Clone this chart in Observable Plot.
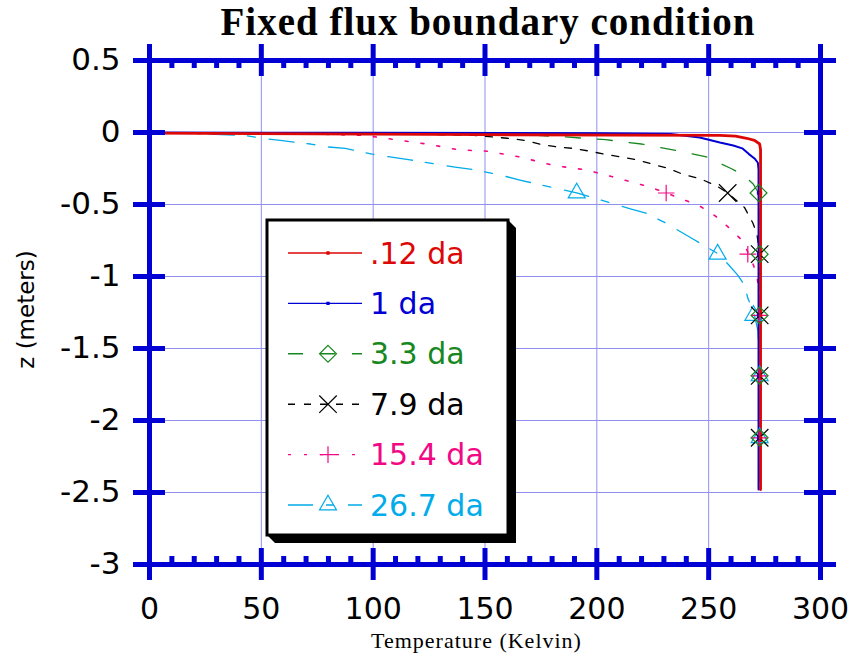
<!DOCTYPE html>
<html><head><meta charset="utf-8">
<script src="https://cdn.jsdelivr.net/npm/d3@7"></script>
<script src="https://cdn.jsdelivr.net/npm/@observablehq/plot@0.6"></script>
<style>body{margin:0;background:#fff}#chart{width:857px;height:655px}</style>
</head><body><div id="chart"></div>
<script>
// ---------- text ----------
const title = "Fixed flux boundary condition";
const xLabel = "Temperature (Kelvin)";
const yLabel = "z (meters)";

// ---------- ticks ----------
const xTicks = [0, 50, 100, 150, 200, 250, 300];
const xTickLabels = ["0", "50", "100", "150", "200", "250", "300"];
const xMinorTicks = [10,20,30,40,60,70,80,90,110,120,130,140,160,170,180,190,210,220,230,240,260,270,280,290];
const yTicks = [0.5, 0, -0.5, -1, -1.5, -2, -2.5, -3];
const yTickLabels = ["0.5", "0", "-0.5", "-1", "-1.5", "-2", "-2.5", "-3"];
const xGrid = [50, 100, 150, 200, 250];
const yGrid = [0, -0.5, -1, -1.5, -2, -2.5];

// ---------- series ----------
const seriesNames = [".12 da", "1 da", "3.3 da", "7.9 da", "15.4 da", "26.7 da"];
const seriesColors = ["#dd0806", "#0000d4", "#17871f", "#000000", "#f20884", "#02abea"];

const tempA = [0, 150, 255, 262, 267, 270.5, 272.8, 273.2, 273.2];
const depthA = [-0.005, -0.015, -0.02, -0.025, -0.04, -0.055, -0.08, -0.12, -2.48];

const tempB = [0, 100, 200, 233, 246, 255, 261, 265, 268, 270.5, 272, 272.3, 272.3];
const depthB = [0, -0.002, -0.005, -0.01, -0.035, -0.07, -0.09, -0.11, -0.15, -0.18, -0.21, -0.26, -2.48];

const tempC = [0, 100, 162, 185, 204, 220, 234, 249, 260, 266, 270, 272.3, 272.8, 272.8];
const depthC = [0, -0.005, -0.01, -0.03, -0.05, -0.08, -0.12, -0.17, -0.25, -0.3, -0.36, -0.42, -0.6, -2.48];

const tempD = [0, 60, 120, 145, 160, 168, 174.5, 182, 189, 197, 203, 211, 218, 225, 232, 238.5, 246, 253.5, 258.5, 266, 269.8, 271.5, 272.8, 273, 273];
const depthD = [0, -0.005, -0.012, -0.02, -0.04, -0.055, -0.08, -0.1, -0.11, -0.13, -0.15, -0.17, -0.19, -0.22, -0.25, -0.29, -0.32, -0.37, -0.42, -0.52, -0.63, -0.7, -0.84, -1.0, -2.48];

const tempE = [0, 30, 73, 96, 110, 124, 138, 151, 165.6, 181, 195.5, 210, 224, 231, 246, 253, 259, 265, 267.5, 270, 271.5, 272.5, 273, 273];
const depthE = [0, -0.01, -0.01, -0.02, -0.05, -0.08, -0.12, -0.13, -0.17, -0.23, -0.26, -0.32, -0.38, -0.42, -0.51, -0.58, -0.66, -0.75, -0.83, -0.92, -0.99, -1.1, -1.27, -2.48];

const tempF = [0, 20, 32, 42, 50.5, 58.5, 72, 79.5, 87.5, 99.5, 107.5, 116.5, 128.5, 136.6, 146, 158, 165.6, 173.7, 182.6, 191, 195.5, 202, 215, 222, 231, 243, 254, 259, 263, 266, 267.5, 270.5, 272, 272.5, 272.5];
const depthF = [0, -0.005, -0.015, -0.02, -0.04, -0.055, -0.08, -0.1, -0.11, -0.15, -0.17, -0.19, -0.22, -0.24, -0.26, -0.3, -0.33, -0.36, -0.39, -0.42, -0.44, -0.47, -0.53, -0.56, -0.63, -0.74, -0.84, -0.92, -0.99, -1.06, -1.15, -1.27, -1.375, -1.5, -2.48];

// marker points
const markerDepth = [-0.42, -0.845, -1.27, -1.69, -2.12];
const markerTempA = [273.2, 273.2, 273.2, 273.2, 273.2];
const markerTempB = [272.3, 272.3, 272.3, 272.3, 272.3];
const markerTempC = [272.3, 272.8, 272.8, 272.8, 272.8];
const markerTempD = [258.5, 272.8, 272.8, 272.8, 272.8];
const markerTempE = [231, 267.5, 272.5, 272.5, 272.5];
const markerTempF = [191, 254, 270, 272.8, 272.8];

// ---------- styles ----------
const axisColor = "#0000d4";
const gridColor = "#9090ee";
const seriesStyle = [
  {dash: null, width: 2.8, symbol: "square", r: 1.2, fill: seriesColors[0]},
  {dash: null, width: 2.0, symbol: "square", r: 1.2, fill: seriesColors[1]},
  {dash: "15,17", width: 1.3, symbol: "diamond2", r: 7.6, fill: "none"},
  {dash: "7,9", width: 1.3, symbol: "times", r: 8.0, fill: "none"},
  {dash: "3,13", width: 1.6, symbol: "plus", r: 5.4, fill: "none"},
  {dash: "25,13,8,14", width: 1.3, symbol: "triangle", r: 6.3, fill: "none"}
];
const d3Symbols = {square: d3.symbolSquare, diamond2: d3.symbolDiamond2, times: d3.symbolTimes, plus: d3.symbolPlus, triangle: d3.symbolTriangle};

const temps = [tempA, tempB, tempC, tempD, tempE, tempF];
const depths = [depthA, depthB, depthC, depthD, depthE, depthF];
const markerTemps = [markerTempA, markerTempB, markerTempC, markerTempD, markerTempE, markerTempF];

const lineRows = seriesNames.map((name, s) => temps[s].map((t, i) => ({series: name, T: t, z: depths[s][i]})));
const markerRows = seriesNames.map((name, s) => markerTemps[s].map((t, i) => ({series: name, T: t, z: markerDepth[i]})));

const tickFont = "DejaVu Sans";
const order = [5, 4, 3, 2, 1, 0];

const plot = Plot.plot({
  width: 857, height: 655,
  marginTop: 60, marginBottom: 91, marginLeft: 149, marginRight: 37,
  x: {domain: [0, 300], axis: null},
  y: {domain: [-3, 0.5], axis: null},
  style: {background: "white"},
  marks: [
    Plot.ruleX(xGrid, {x: d => d, stroke: gridColor, strokeWidth: 1}),
    Plot.ruleY(yGrid, {y: d => d, stroke: gridColor, strokeWidth: 1}),
    ...order.map(s => Plot.line(lineRows[s], {x: "T", y: "z", stroke: seriesColors[s], strokeWidth: seriesStyle[s].width, strokeDasharray: seriesStyle[s].dash})),
    ...order.map(s => Plot.dot(markerRows[s], {x: "T", y: "z", symbol: seriesStyle[s].symbol, r: seriesStyle[s].r, stroke: seriesColors[s], fill: seriesStyle[s].fill, strokeWidth: 1.2})),
    // frame axes
    Plot.ruleX([0, 300], {x: d => d, stroke: axisColor, strokeWidth: 5, strokeLinecap: "square"}),
    Plot.ruleY([-3, 0.5], {y: d => d, stroke: axisColor, strokeWidth: 5, strokeLinecap: "square"}),
    // major ticks on top and bottom
    Plot.ruleX(xTicks, {x: d => d, y1: 0.5, y2: 0.5, insetTop: -16, insetBottom: -16, stroke: axisColor, strokeWidth: 5}),
    Plot.ruleX(xTicks, {x: d => d, y1: -3, y2: -3, insetTop: -16, insetBottom: -16, stroke: axisColor, strokeWidth: 5}),
    // minor ticks (inward)
    Plot.ruleX(xMinorTicks, {x: d => d, y1: 0.5, y2: 0.5, insetTop: 0, insetBottom: -8, stroke: axisColor, strokeWidth: 5}),
    Plot.ruleX(xMinorTicks, {x: d => d, y1: -3, y2: -3, insetTop: -8, insetBottom: 0, stroke: axisColor, strokeWidth: 5}),
    // major ticks on left and right
    Plot.ruleY(yTicks, {y: d => d, x1: 0, x2: 0, insetLeft: -16, insetRight: -16, stroke: axisColor, strokeWidth: 5}),
    Plot.ruleY(yTicks, {y: d => d, x1: 300, x2: 300, insetLeft: -16, insetRight: -16, stroke: axisColor, strokeWidth: 5}),
    // tick labels
    Plot.text(xTicks, {x: d => d, text: (d, i) => xTickLabels[i], frameAnchor: "bottom", dy: 45, lineAnchor: "middle", textAnchor: "middle", fontFamily: tickFont, fontSize: 30, fill: "black"}),
    Plot.text(yTicks, {y: d => d, text: (d, i) => yTickLabels[i], frameAnchor: "left", dx: -29, lineAnchor: "middle", textAnchor: "end", fontFamily: tickFont, fontSize: 31, fill: "black"}),
    // titles
    Plot.text([title], {frameAnchor: "top", dy: -38, dx: 3, lineAnchor: "middle", textAnchor: "middle", fontFamily: "Liberation Serif", fontWeight: "bold", fontSize: 39, fill: "black"}),
    Plot.text([xLabel], {frameAnchor: "bottom", dy: 76, dx: -8.5, lineAnchor: "middle", textAnchor: "middle", fontFamily: "Liberation Serif", fontSize: 22, fill: "black"}),
    Plot.text([yLabel], {frameAnchor: "left", dx: -123, dy: -3, rotate: -90, lineAnchor: "middle", textAnchor: "middle", fontFamily: "DejaVu Sans", fontSize: 23, fill: "black"})
  ]
});

// letter spacing on titles
d3.select(plot).selectAll("text").filter(function() { return this.textContent === title; }).attr("letter-spacing", "1px");
d3.select(plot).selectAll("text").filter(function() { return this.textContent === xLabel; }).attr("letter-spacing", "1px");

// ---------- legend ----------
const svg = d3.select(plot);
const lg = svg.append("g").attr("class", "legend").attr("text-anchor", "start");
const bx = 267, by = 220, bw = 241, bh = 315, sh = 8;
lg.append("polygon")
  .attr("points", [[bx + bw, by], [bx + bw + sh, by + sh], [bx + bw + sh, by + bh + sh], [bx + sh, by + bh + sh], [bx, by + bh]].map(p => p.join(",")).join(" "))
  .attr("fill", "black");
lg.append("rect").attr("x", bx).attr("y", by).attr("width", bw).attr("height", bh)
  .attr("fill", "white").attr("stroke", "black").attr("stroke-width", 3);
seriesNames.forEach((name, i) => {
  const cy = 253 + i * 50.4;
  const st = seriesStyle[i];
  lg.append("line").attr("x1", 288).attr("x2", 362).attr("y1", cy).attr("y2", cy)
    .attr("stroke", seriesColors[i]).attr("stroke-width", 1.4)
    .attr("stroke-dasharray", st.dash);
  lg.append("path")
    .attr("d", d3.symbol(d3Symbols[st.symbol], Math.PI * st.r * st.r)())
    .attr("transform", `translate(328,${cy})`)
    .attr("fill", st.fill).attr("stroke", seriesColors[i]).attr("stroke-width", 1.2);
  lg.append("text").attr("x", 370).attr("y", cy).attr("dy", "0.35em")
    .attr("text-anchor", "start")
    .attr("font-family", "DejaVu Sans").attr("font-size", 30)
    .attr("fill", seriesColors[i]).text(name);
});

document.getElementById("chart").append(plot);
</script>
</body></html>
